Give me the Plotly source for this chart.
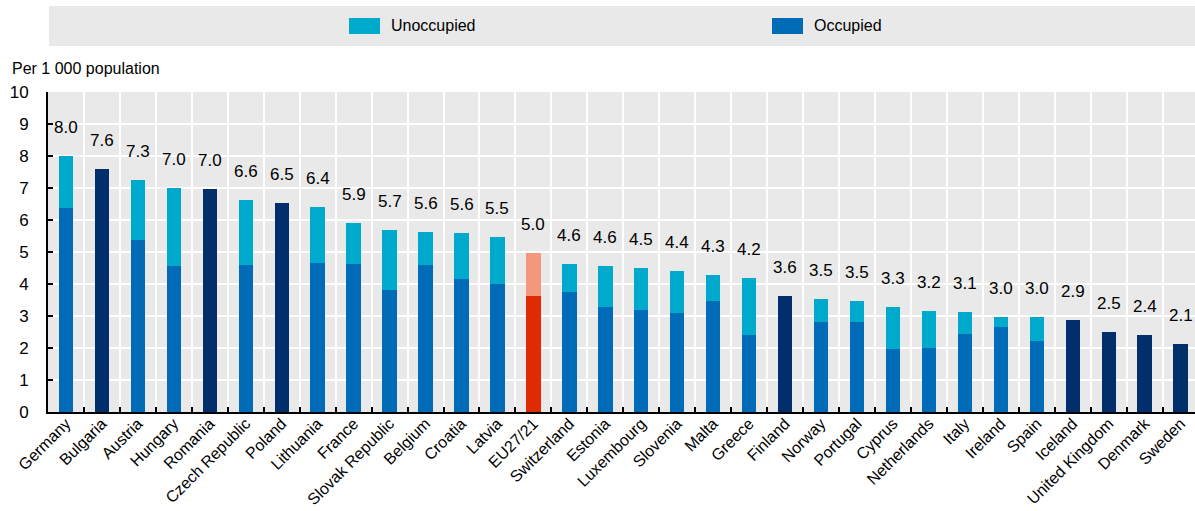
import plotly.graph_objects as go

countries = ["Germany", "Bulgaria", "Austria", "Hungary", "Romania", "Czech Republic", "Poland",
             "Lithuania", "France", "Slovak Republic", "Belgium", "Croatia", "Latvia", "EU27/21",
             "Switzerland", "Estonia", "Luxembourg", "Slovenia", "Malta", "Greece", "Finland",
             "Norway", "Portugal", "Cyprus", "Netherlands", "Italy", "Ireland", "Spain", "Iceland",
             "United Kingdom", "Denmark", "Sweden"]
total = [8.00, 7.58, 7.26, 7.01, 6.96, 6.61, 6.54, 6.42, 5.91, 5.69, 5.61, 5.60, 5.48, 4.98,
         4.62, 4.56, 4.51, 4.42, 4.29, 4.18, 3.61, 3.52, 3.46, 3.29, 3.17, 3.13, 2.97, 2.97,
         2.86, 2.51, 2.42, 2.12]
# None = no split available (total only)
occupied = [6.38, None, 5.36, 4.55, None, 4.58, None, 4.67, 4.64, 3.80, 4.58, 4.17, 3.99, 3.63,
            3.76, 3.29, 3.20, 3.09, 3.48, 2.41, None, 2.82, 2.82, 1.97, 2.00, 2.45, 2.67, 2.23,
            None, None, None, None]

BLUE = "#006BB6"
CYAN = "#00AACC"
NAVY = "#002F6C"
RED = "#E02A00"
SALMON = "#F5977A"
FONT = "Liberation Sans, Arial, sans-serif"

unocc_vals = [round(t - o, 2) if o is not None else None for t, o in zip(total, occupied)]
only_total = [t if o is None else None for t, o in zip(total, occupied)]
occ_colors = [RED if c == "EU27/21" else BLUE for c in countries]
unocc_colors = [SALMON if c == "EU27/21" else CYAN for c in countries]

fig = go.Figure()
fig.add_bar(x=countries, y=occupied, name="Occupied", marker=dict(color=occ_colors, line_width=0), width=0.4)
fig.add_bar(x=countries, y=unocc_vals, name="Unoccupied", marker=dict(color=unocc_colors, line_width=0), width=0.4)
fig.add_bar(x=countries, y=only_total, name="Total", marker=dict(color=NAVY, line_width=0), width=0.4)

for c, t in zip(countries, total):
    fig.add_annotation(x=c, y=t, text=f"{t:.1f}", showarrow=False, yanchor="bottom", yshift=17,
                       font=dict(size=17, color="#000000", family=FONT))

W, H = 1195, 511
L, R, T, B = 48, 0, 92, 99
pw, ph = W - L - R, H - T - B


def px(x):
    return (x - L) / pw


def py(y):
    return (H - B - y) / ph


# legend band
fig.add_shape(type="rect", xref="paper", yref="paper", x0=px(49), x1=px(1195), y0=py(46), y1=py(6),
              fillcolor="#E9E9E9", line_width=0, layer="below")
for name, color, bx in [("Unoccupied", CYAN, 349), ("Occupied", BLUE, 772)]:
    fig.add_shape(type="rect", xref="paper", yref="paper", x0=px(bx), x1=px(bx + 31), y0=py(34), y1=py(18),
                  fillcolor=color, line_width=0)
    fig.add_annotation(xref="paper", yref="paper", x=px(bx + 40), y=py(26), text=name, showarrow=False,
                       xanchor="left", yanchor="middle", font=dict(size=16, color="#000000", family=FONT))

fig.add_annotation(xref="paper", yref="paper", x=px(10), y=py(68), text="Per 1 000 population",
                   showarrow=False, xanchor="left", yanchor="middle",
                   font=dict(size=16, color="#000000", family=FONT))

fig.update_layout(
    width=W, height=H,
    margin=dict(l=L, r=R, t=T, b=B, autoexpand=False),
    barmode="stack",
    showlegend=False,
    paper_bgcolor="white",
    plot_bgcolor="#E9E9E9",
    font=dict(family=FONT, size=16, color="#000000"),
    xaxis=dict(type="category", range=[-0.5, 31.4], tickson="boundaries", ticks="inside", ticklen=5,
               tickcolor="#000000", tickwidth=1.5, showline=True, linecolor="#000000", linewidth=2,
               showgrid=True, gridcolor="white", gridwidth=1.5, tickangle=-45, automargin=False,
               ticklabelstandoff=-6, tickfont=dict(size=16, family=FONT)),
    yaxis=dict(range=[0, 10], dtick=1, ticks="inside", ticklen=5, tickcolor="#000000", tickwidth=1.5,
               showline=True, linecolor="#000000", linewidth=2, showgrid=True, gridcolor="white",
               gridwidth=1.5, zeroline=False, ticklabelstandoff=14, automargin=False,
               tickfont=dict(size=17, family=FONT)),
)

fig.write_html("out.html", config={"displayModeBar": False},
               post_script="document.body.style.margin='0';")
